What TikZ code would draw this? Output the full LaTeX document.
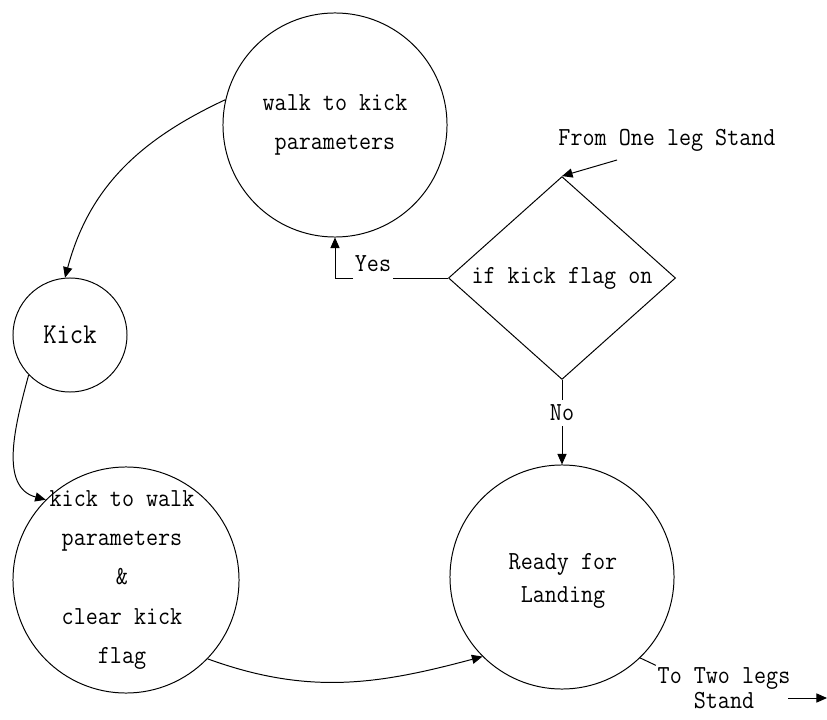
\documentclass[tikz,border=0pt]{standalone}
\usepackage{fontspec}
\newfontfamily\diagfont[FakeStretch=0.9]{Latin Modern Mono}
\usetikzlibrary{arrows.meta,shapes.geometric}

\begin{document}
\begin{tikzpicture}
  [x=0.025cm,y=0.025cm,->,>={Triangle[length=7.5pt,width=6.5pt]},line width=0.7pt,
  every node/.style={font=\diagfont\fontsize{18.5}{28}\selectfont,align=center},
  state/.style={circle,draw,inner sep=0pt},
  decision/.style={diamond,draw,inner sep=0pt,minimum width=5.675cm,minimum height=4.225cm}]
  \useasboundingbox (0,0) rectangle (827,-720);

  \node[state,minimum size=5.6cm] (walkkick) at (335,-125) {walk to kick\\parameters};
  \node[state,minimum size=2.85cm,font=\diagfont\fontsize{20.5}{28}\selectfont] (kick) at (70,-335) {Kick};
  \node[state,minimum size=5.65cm] (kickwalk) at (126,-580) {};
  \node (kickwalktext) at (122,-580) {kick to walk\\parameters\\\&\\clear kick\\flag};
  \node[state,minimum size=5.6cm] (landing) at (562,-577) {};
  \node[font=\diagfont\fontsize{18.5}{23}\selectfont] (landingtext) at (563,-581) {Ready for\\Landing};
  \node[decision] (flagon) at (562,-278) {if kick flag on};

  \node (fromstand) at (667,-140) {From One leg Stand};
  \node[inner sep=1pt,font=\diagfont\fontsize{18.5}{18}\selectfont] (tostand) at (724,-688) {To Two legs\\Stand};
  \node[inner sep=1pt] (yes) at (373,-264) {Yes};
  \node (no) at (562,-413) {No};

  \coordinate (fromend) at (617,-160);
  \coordinate (yescorner) at (335,-278);
  \coordinate (outstart) at (788,-698);
  \coordinate (outend) at (827,-698);

  \foreach \from/\to/\outang/\inang in {walkkick.167/kick.95/205/75,
      kick.224/kickwalk.135/255/165,
      kickwalk.-44/landing.225/-20/195}
     \draw (\from) to[out=\outang,in=\inang] (\to);

  \draw (fromend) -- (flagon.north);
  \draw[-] (flagon.west) -- (yes.east |- flagon.west);
  \draw (yes.west |- flagon.west) -- (yescorner) -- (walkkick.south);
  \draw[-] (flagon.south) -- (no);
  \draw (no) -- (landing.north);
  \draw[-] (landing.-46) -- (tostand.north west);
  \draw (outstart) -- (outend);

\end{tikzpicture}
\end{document}
